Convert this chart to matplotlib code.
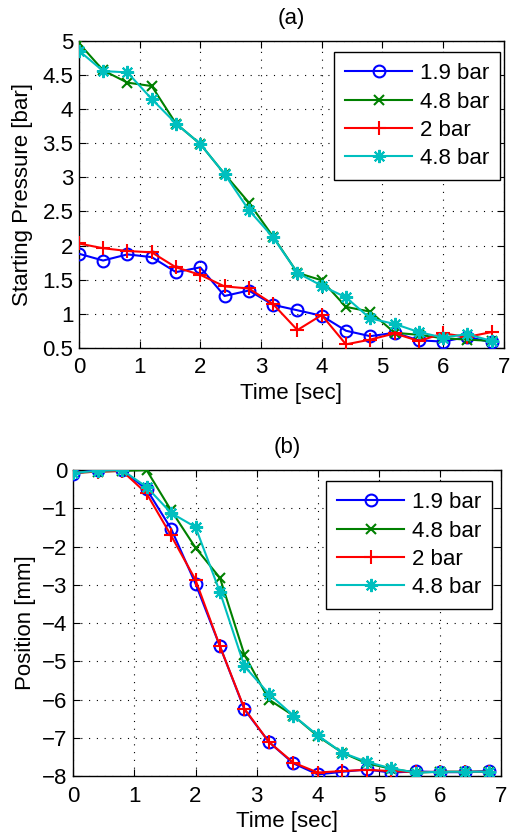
import matplotlib
matplotlib.use("Agg")
import matplotlib.pyplot as plt
from matplotlib.ticker import FuncFormatter

plt.rcParams['font.family'] = ['Liberation Sans', 'DejaVu Sans']
plt.rcParams['font.size'] = 16

# time axis (sec)
t = [0.0, 0.4, 0.8, 1.2, 1.6, 2.0, 2.4, 2.8, 3.2, 3.6, 4.0, 4.4, 4.8, 5.2, 5.6, 6.0, 6.4, 6.8]

labels = ["1.9 bar", "4.8 bar", "2 bar", "4.8 bar"]

# (a) starting pressure [bar]
p_19 = [1.88, 1.78, 1.87, 1.83, 1.61, 1.68, 1.26, 1.34, 1.13, 1.05, 0.97, 0.75, 0.67, 0.72, 0.61, 0.59, 0.66, 0.58]
p_48a = [4.97, 4.57, 4.39, 4.34, 3.79, 3.49, 3.05, 2.63, 2.13, 1.60, 1.49, 1.10, 1.03, 0.72, 0.69, 0.64, 0.62, 0.60]
p_2 = [2.03, 1.96, 1.92, 1.90, 1.68, 1.57, 1.40, 1.37, 1.14, 0.76, 0.98, 0.55, 0.62, 0.71, 0.60, 0.71, 0.66, 0.73]
p_48b = [4.86, 4.56, 4.54, 4.15, 3.79, 3.49, 3.05, 2.52, 2.12, 1.60, 1.41, 1.24, 0.93, 0.85, 0.73, 0.65, 0.70, 0.60]

# (b) position [mm]
x_19 = [-0.09, 0.0, 0.0, -0.50, -1.53, -2.97, -4.61, -6.26, -7.11, -7.67, -7.96, -7.89, -7.83, -7.91, -7.88, -7.90, -7.90, -7.87]
x_48a = [-0.07, -0.04, -0.02, 0.0, -1.05, -2.03, -2.82, -4.83, -6.00, -6.42, -6.96, -7.39, -7.67, -7.81, -7.91, -7.89, -7.89, -7.89]
x_2 = [-0.07, -0.04, -0.02, -0.61, -1.71, -2.87, -4.61, -6.24, -7.11, -7.65, -7.91, -7.87, -7.84, -7.87, -7.90, -7.89, -7.89, -7.89]
x_48b = [-0.07, -0.02, 0.0, -0.44, -1.12, -1.49, -3.19, -5.13, -5.85, -6.42, -6.94, -7.39, -7.63, -7.80, -7.91, -7.89, -7.89, -7.89]

colors = ['#0000ff', '#008000', '#ff0000', '#00bfbf']
markers = ['o', 'x', '+', (8, 2, 0)]
msizes = [8.5, 6.5, 10, 9.5]


def gfmt(v, pos):
    return ('%g' % v).replace('-', '\u2212')


fig = plt.figure(figsize=(5.12, 8.38), dpi=100)
ax1 = fig.add_axes([0.154, 0.585, 0.830, 0.366])
ax2 = fig.add_axes([0.143, 0.074, 0.836, 0.365])


def draw(ax, series, ylim, yticks, ylab, title, lab_x, leg_anchor):
    for y, c, m, ms, lab in zip(series, colors, markers, msizes, labels):
        ax.plot(t, y, color=c, marker=m, markersize=ms, markerfacecolor='none',
                markeredgewidth=1.5, linewidth=1.5, label=lab, zorder=3)
    ax.set_xlim(0, 7)
    ax.set_ylim(*ylim)
    ax.set_xticks(range(8))
    ax.set_yticks(yticks)
    ax.yaxis.set_major_formatter(FuncFormatter(gfmt))
    ax.grid(True, color='k', linestyle=(0, (1, 6)), linewidth=0.8)
    ax.set_axisbelow(True)
    ax.tick_params(direction='in', top=True, right=True, length=5, width=0.8)
    ax.tick_params(axis='x', pad=7)
    ax.tick_params(axis='y', pad=4)
    for s in ax.spines.values():
        s.set_linewidth(1.0)
    ax.set_xlabel('Time [sec]', labelpad=3)
    ax.set_ylabel(ylab)
    ax.yaxis.set_label_coords(lab_x, 0.5)
    ax.set_title(title, pad=12, fontsize=16)
    leg = ax.legend(loc='upper right', bbox_to_anchor=leg_anchor, borderaxespad=0,
                    handlelength=3, handletextpad=0.35, labelspacing=0.33,
                    borderpad=0.5, fancybox=False, framealpha=1, edgecolor='k')
    leg.get_frame().set_linewidth(1.0)


draw(ax1, [p_19, p_48a, p_2, p_48b], (0.5, 5),
     [0.5, 1, 1.5, 2, 2.5, 3, 3.5, 4, 4.5, 5],
     'Starting Pressure [bar]', '(a)', -0.109, (0.991, 0.964))
draw(ax2, [x_19, x_48a, x_2, x_48b], (-8, 0), list(range(-8, 1)),
     'Position [mm]', '(b)', -0.086, (0.979, 0.964))

fig.savefig('out.png', dpi=100)
